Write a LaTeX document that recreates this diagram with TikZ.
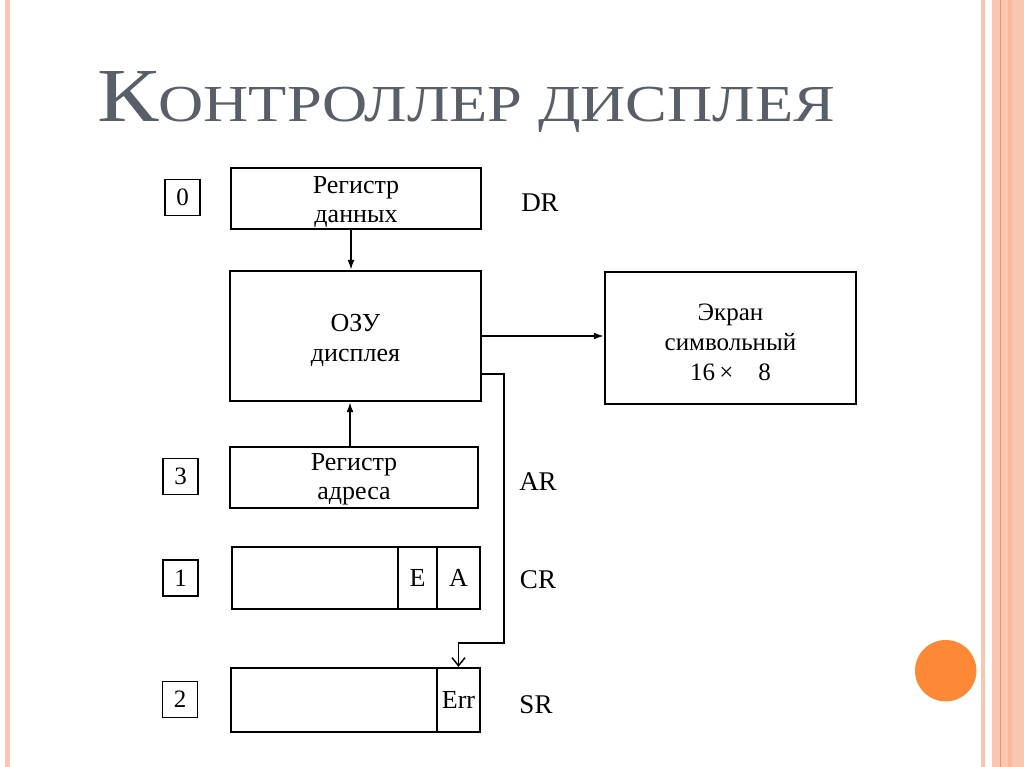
\documentclass[tikz,border=0pt]{standalone}
\usepackage{fontspec}
\setmainfont{Liberation Serif}
\usetikzlibrary{arrows.meta,calc}
\definecolor{peach}{HTML}{F9C6B2}
\definecolor{peachdark}{HTML}{E99566}
\definecolor{peachmid}{HTML}{F7B89E}
\definecolor{orangedot}{HTML}{FD8835}
\definecolor{titlegray}{HTML}{575F69}
\tikzset{
  box/.style={draw, line width=2.3pt, inner sep=0pt},
  boxtext/.style={inner sep=0pt, align=center, font=\fontsize{26}{29}\selectfont},
  numbox/.style={draw, line width=1.8pt, minimum width=35pt, minimum height=36pt, inner sep=0pt, font=\fontsize{25}{26}\selectfont},
  reglabel/.style={font=\fontsize{27}{28}\selectfont, inner sep=0pt},
  conn/.style={line width=1.8pt},
  tipfill/.style={-{Latex[length=10pt,width=7pt]}},
  tipopen/.style={-{Straight Barb[length=8pt,width=13pt,line width=1.5pt]}}
}
\begin{document}
\begin{tikzpicture}[x=1pt,y=-1pt]
\useasboundingbox (0,0) rectangle (1024,767);
\fill[white] (0,0) rectangle (1024,767);
% decorative frame
\fill[peach] (5,0) rectangle (10,767);
\fill[peach] (981,0) rectangle (985,767);
\fill[peach] (992,0) rectangle (1024,767);
\fill[peachmid] (1008,0) rectangle (1012,767);
\draw[peachdark, line width=1pt] (1000,0) -- (1000,767);
\fill[orangedot] (945.7,670.7) circle (30.7);
% title
\node[anchor=base west, inner sep=0pt, text=titlegray] (title) at (97,122)
  {\resizebox{738pt}{50pt}{\fontsize{75}{80}\selectfont К\fontsize{51}{60}\selectfont ОНТРОЛЛЕР ДИСПЛЕЯ}};
% main boxes
\node[box, minimum width=250pt, minimum height=61pt] (dr) at (356,198.5) {};
\node[boxtext] (drt) at ([yshift=-4pt]dr.center) {Регистр\\данных};
\node[box, minimum width=251pt, minimum height=130pt] (ozu) at (355.5,336) {};
\node[boxtext] (ozut) at ([yshift=-4pt]ozu.center) {ОЗУ\\[1pt]дисплея};
\node[box, minimum width=248pt, minimum height=61pt] (ar) at (354,477.5) {};
\node[boxtext] (art) at ([yshift=-2pt]ar.center) {Регистр\\адреса};
\node[box, minimum width=248pt, minimum height=62pt] (cr) at (356,578) {};
\node[box, minimum width=39pt, minimum height=62pt, font=\fontsize{26}{29}\selectfont] (cre) at (417.5,578) {E};
\node[box, minimum width=43pt, minimum height=62pt, font=\fontsize{26}{29}\selectfont] (cra) at (458.5,578) {A};
\node[box, minimum width=249pt, minimum height=64pt] (sr) at (355.5,700) {};
\node[box, minimum width=43pt, minimum height=64pt, font=\fontsize{26}{29}\selectfont] (err) at (458.5,700) {Err};
\node[box, minimum width=251pt, minimum height=132pt] (ekran) at (730.5,338) {};
\node[boxtext, font=\fontsize{25}{30}\selectfont] (ekrant) at ([yshift=-4pt]ekran.center) {Экран\\символьный\\16\,×\quad8};
% number boxes
\node[numbox] (n0) at (182.5,197.5) {0};
\node[numbox] (n3) at (180.5,476.5) {3};
\node[numbox] (n1) at (180.5,578) {1};
\node[numbox] (n2) at (180,699.5) {2};
% register labels
\node[reglabel] (ldr) at (540,203) {DR};
\node[reglabel] (lar) at (538,482) {AR};
\node[reglabel] (lcr) at (538,580) {CR};
\node[reglabel] (lsr) at (536,705) {SR};
% connectors
\draw[conn, tipfill] ([xshift=-5pt]dr.south) -- ([xshift=-5pt]dr.south |- ozu.north);
\draw[conn, tipfill] ([xshift=-4pt]ar.north) -- ([xshift=-4pt]ar.north |- ozu.south);
\draw[conn, tipfill] (ozu.east) -- (ozu.east -| ekran.west);
\coordinate (bend) at (504,643);
\draw[conn, tipopen] ([yshift=-38pt]ozu.east) -| (bend) -| (err.north);
\end{tikzpicture}
\end{document}
